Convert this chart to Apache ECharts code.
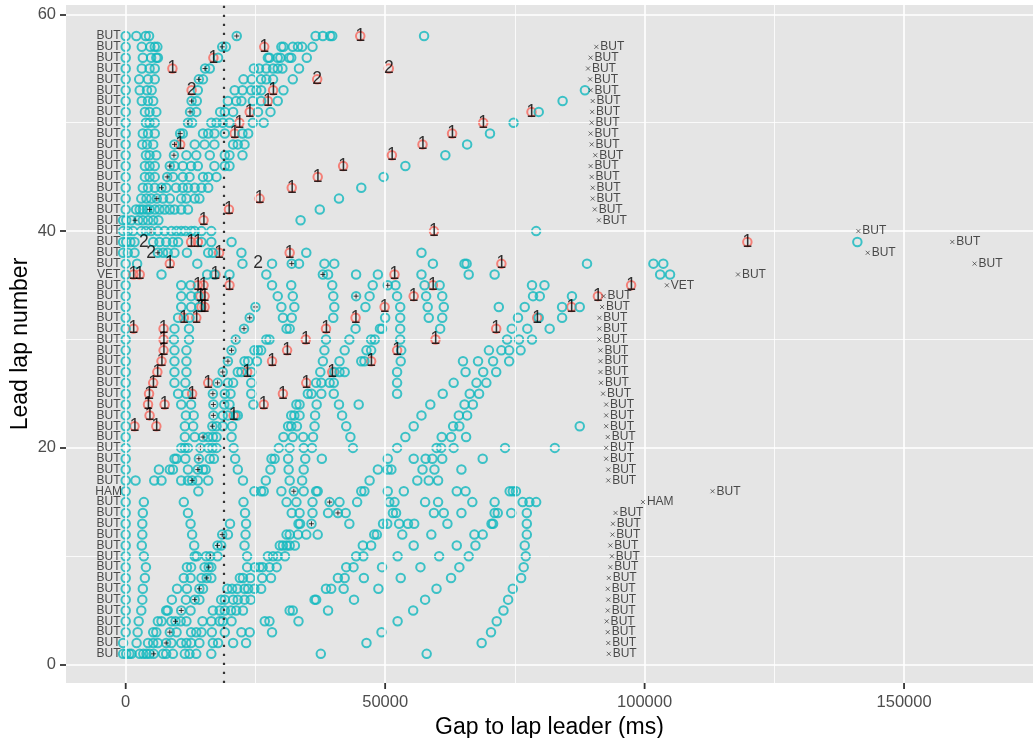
<!DOCTYPE html>
<html><head><meta charset="utf-8">
<style>html,body{margin:0;padding:0;background:#fff}#c{width:1035px;height:738px;filter:blur(0.3px)}</style>
<script src="https://cdn.jsdelivr.net/npm/echarts@6/dist/echarts.min.js"></script>
</head><body><div id="c"></div>
<script>
// Gaps are read in seconds and converted to ms when drawn.
const tealGapsByLap = {
58:[0,2.05,3.85,4.5,21.4,36.6,38,39.4,39.8,57.5],
57:[0,3.1,4.75,5.6,6.1,18.6,19.3,30,30.4,32.2,33.2,34,36],
56:[0,3.3,4.9,5.9,6.2,17.8,27.4,27.7,29.3,29.8,31.5,31.9,34.9],
55:[0,3.1,4.6,5.6,15.3,16.2,24.7,25.7,27.1,28.4,29.3,30.2,33.4],
54:[0,2.6,4.3,5.6,14.1,14.9,22.7,24.3,26.1,27.1,28.4,32.2],
53:[0,2.7,4.1,5,13.9,21,22.5,24.2,25.2,26.1,30.4,88.5],
52:[0,3.1,4.3,5.3,12.7,13.7,19.7,21.3,22.3,24.5,26.1,29.3,84.2],
51:[0,3.7,4.6,5.9,12.4,13.6,18.2,19.1,20.7,25.5,27.9,79.6],
50:[0,3.9,4.6,5.6,12,12.8,16.5,17.5,18.7,20,24.5,26.6,74.75],
49:[0,3.3,4.3,5.6,10.5,11,14.9,15.9,17.1,19.1,22.5,23.6,70.2],
48:[0,3.2,4.1,5.3,9.4,13.3,15.2,17.1,20.7,21.6,22.9,65.8],
47:[0,3.9,4.6,5.9,9.3,11.7,13.6,16.2,19.1,20,22.5,61.6],
46:[0,3.7,4.6,5.6,8.5,9.4,11,12.6,13.9,17.1,19.1,20,53.9],
45:[0,3.7,4.6,5.6,8,9.1,11,12.3,14.9,15.9,17.5,49.7],
44:[0,3.3,4.3,5.6,6.9,7.8,9.7,11,12,13.3,14.6,15.9,45.4],
43:[0,3,4,4.9,6,7.2,8.5,10.7,11.7,13.3,14.2,41.1],
42:[0,2,2.7,3.3,4.1,4.6,5.6,6.5,7.5,8.5,9.4,10.7,12,37.4],
41:[-0.5,0.1,1.1,2.4,3.3,4.3,5.3,6.3,33.7],
40:[-0.5,0.4,1.4,3,3.9,4.9,6.2,7.5,8.8,9.8,10.7,11.5,12.6,13.3,14.6,16.5,79.1],
39:[-0.5,0.1,0.9,1.7,5.3,6.5,7.8,9.1,10.1,14.6,16.5,20.4,141],
38:[-0.5,0.4,1.7,6.2,7.2,8.1,9.4,11.8,15.9,16.8,22.3,34.8,57],
37:[0,2.2,13.8,22.5,28.2,32,33.4,38.3,40.2,59.2,65.3,65.7,88.9,101.7,103.6],
36:[0,6.9,15.7,17.1,20,27.1,38,39,44.4,48.6,57,66.1,71.1,103,104.9],
35:[0,10.7,12.5,28.2,31.9,39.8,47.6,50.5,52,57.6,60.5,78.3,80.7],
34:[0,10.7,12.6,14,29.3,32.2,40,44.4,47,52.3,57.9,61,78.5,79.8,86],
33:[0,10.7,12.6,14.2,25,30,32.5,40.2,46.2,52.9,58.2,61.3,71.9,76.9,84.1,87.5],
32:[0,10.1,12.3,23.9,30.3,32,40,50,52.9,58.4,61,75.6,79.6,84.1],
31:[0,9.4,12.2,22.8,31,31.6,44.3,49,49.4,52.9,60.6,74.4,77.4,81.7],
30:[0,9.3,12.2,21.2,27.1,27.7,38.6,43.1,47.3,48,52.9,73.5,75.8,78.3],
29:[0,9.4,11.7,20.4,24.8,25.5,26.1,38.3,42.2,46.4,47.3,53.1,70,72.4,73.9,76.1],
28:[0,9.4,11.7,19.7,22.9,23.6,25.3,38,41.2,45.4,46,53,65,67.9,70.8,73.9],
27:[0,9.4,11.7,18.7,21.6,22.3,24.2,37.5,40.2,41.2,42.2,52.3,65.5,68.9,71.4],
26:[0,9.4,11.5,17.7,19.7,20.7,24.2,36.7,37.7,39.3,40.1,52.3,63.2,67.6,69.5],
25:[0,10.1,11.7,16.8,19.1,20.2,24.2,35.1,35.8,37.7,40.1,52.3,61.1,66.3,68.1],
24:[0,10.7,12.6,16.9,19,20,24.6,32.9,33.5,36.8,41.1,44.9,58.7,65.3,66.9],
23:[0,11.6,13.1,16.9,18.7,19.7,21.2,21.6,31.9,32.5,33.5,36.5,41.7,57,64.2,65.8],
22:[0,11.4,13,16.7,17.5,18.7,20.5,31.3,31.9,33,36.4,42.5,55.5,63.1,64.3,87.5],
21:[0,11.4,13.3,14.9,15.9,16.8,17.5,20.4,30.4,32.2,34.2,36.1,43.3,53.9,60.9,62.7,65.6],
20:[0,10.7,11.4,12,14.4,15.9,16.7,17.5,20.8,29.5,31.6,34.3,35.9,43.8,52.3,59.9,60.8,63.2,73.1,82.7],
19:[0,9.4,9.8,11.5,14.1,16.2,17,21.1,28.1,28.7,31.3,34.6,37.8,50.5,55.5,57.8,59.1,61,68.8],
18:[0,6.4,8.5,9.1,12,13.9,14.9,15.4,21.6,27.9,31.4,34.3,48.6,50.5,51.2,57.2,59.5,64.7],
17:[0,1.9,5.5,6.9,10.7,12,12.8,13.9,15.9,22.6,27,31.6,34,47,56.2,58.4,60.2],
16:[0,14,24.8,26.1,26.6,30,32.4,34.3,36.7,37,45.4,46,50.5,53.6,63.8,65.5,74,74.6,75.2],
15:[0,3.5,11.2,22.7,31,32.9,36,39.3,41.2,44.6,50.8,51.8,57.7,60.2,66.8,71.1,76.5,77.8,79.1],
14:[0,3.3,12,23,32,33.5,36,39,40.9,42.4,51.5,52.1,59.4,61.3,64.7,71.1,71.7,74.3,77.3],
13:[0,3.2,12.5,20.1,23.2,33.3,33.6,35.8,43.1,49.6,50.4,52.7,54.4,55.6,62,70.5,70.8,77.3],
12:[0,3.2,12.8,18.6,19.7,23.1,31,31.6,33.2,34.8,37,47.9,48.4,53.3,58.9,67.2,68.8,77.3],
11:[0,3.1,13.2,17.7,18.4,22.9,29.7,30.3,31,31.6,32.6,45.7,47.3,55.5,63.8,67.4,76.9],
10:[0,3.5,13.3,13.7,15.5,16.3,17.7,23.4,27.4,28.4,29.3,30.7,44.4,45.8,52.4,60.4,66.1,77.1],
9:[0,3.9,11.8,12.6,15.2,16,16.5,23.4,24.9,25.8,26.4,27.7,29.1,42.5,43.9,49.4,56.8,64.3,76.7],
8:[0,3.7,11.2,12.5,14.6,15.6,16.5,22,22.6,24,26.3,28,40.9,42.2,45.9,53,62.7,76.2],
7:[0,3.3,9.9,11.8,14.2,14.9,19.6,20.5,21.5,22.9,23.6,24.8,26.1,38.6,39.6,42,48.7,59.9,74.6],
6:[0,3.2,8.9,11.6,13.3,14.2,18.4,19.1,20.7,21.6,22.9,24.1,36.4,36.7,44,57.7,73.7],
5:[0,3,7.8,8.1,10.7,12.5,16.8,18.1,19.1,20.3,21.3,22.6,31.6,32.2,39,55.4,72.8],
4:[0,2.5,6.2,6.9,8.8,9.6,10.6,11.7,14.8,16.5,18.1,18.7,20.4,26.8,27.7,33.3,52.4,71.5],
3:[0,2.3,5.3,5.9,8.5,9.8,12.6,13.6,14.6,16.6,19.1,22.3,23.9,28.2,49.3,70.4],
2:[-0.5,2.1,4.3,5.3,6.2,7.8,8.8,10.7,11.7,12.6,14.2,16.8,17.8,20.7,23.2,46.4,68.6],
1:[-0.5,0.1,0.7,1.1,2.7,3.4,4,4.6,5.4,7.2,7.8,9.1,11.4,12.3,13.6,16.5,37.6,58]
};
// [gap seconds, lap]
const redOnes = [[45.2,58],[26.7,57],[16.9,56],[9,55],[28.4,53],[27.4,52],[23.9,51],[21.9,50],[21,49],[10.5,48],
[78.2,51],[68.9,50],[62.9,49],[57.2,48],[51.3,47],[41.9,46],[37,45],[32,44],[25.8,43],[19.9,42],[15,41],[59.4,40],
[12.6,39],[13.9,39],[119.8,39],[18,38],[31.6,38],[8.5,37],[72.4,37],[1.5,36],[2.7,36],[17.3,36],[51.8,36],
[13.9,35],[15,35],[20,35],[59.2,35],[97.4,35],[14.4,34],[15.2,34],[55.5,34],[91,34],[14.6,33],[15.2,33],[49.9,33],[85.9,33],
[11.2,32],[13.6,32],[44.3,32],[79.3,32],[1.5,31],[7.3,31],[38.6,31],[71.4,31],[7.3,30],[34.7,30],[59.7,30],
[7.3,29],[31.1,29],[52.3,29],[6.9,28],[28.2,28],[47.3,28],[6.1,27],[23.4,27],[39.8,27],[5.3,26],[15.9,26],[34.8,26],
[4.5,25],[12.8,25],[30.3,25],[4.3,24],[7.5,24],[26.6,24],[4.6,23],[20.8,23],[1.7,22],[5.9,22]];
const redTwos = [[50.7,55],[36.9,54],[12.7,53]];
const plainTwos = [[3.5,39],[4.9,38],[25.5,37]];
const plusMarks = [[21.4,58],[18.6,57],[15.3,55],[14.1,54],[12.7,52],[12.4,51],[12,50],[10.5,49],[9.4,48],[9.3,47],[8.5,46],[8,45],[6.9,44],[6,43],[4.6,42],[1.8,41],[4.9,40],[6.2,38],[32,37],[38,36],[50.5,35],[44.4,34],[25,33],[23.9,32],[22.8,31],[21.2,30],[20.4,29],[19.7,28],[18.7,27],[17.7,26],[16.8,25],[16.9,24],[16.9,23],[16.7,22],[14.9,21],[14.4,20],[14.1,19],[13.9,18],[12.8,17],[32.4,16],[39.3,15],[40.9,14],[35.8,13],[18.6,12],[17.7,11],[16.3,10],[16,9],[15.6,8],[14.2,7],[13.3,6],[10.7,5],[9.6,4],[8.5,3],[7.8,2],[5.4,1]];
// [gap seconds, lap, driver]
const finishMarks = [[90.7,57,'BUT'],[89.6,56,'BUT'],[89.1,55,'BUT'],[89.5,54,'BUT'],[89.6,53,'BUT'],[90,52,'BUT'],[89.9,51,'BUT'],[89.8,50,'BUT'],[89.6,49,'BUT'],[89.8,48,'BUT'],[90.5,47,'BUT'],[89.6,46,'BUT'],[89.8,45,'BUT'],[90,44,'BUT'],[90,43,'BUT'],[90.4,42,'BUT'],[91.2,41,'BUT'],
[141.2,40,'BUT'],[159.3,39,'BUT'],[143,38,'BUT'],[163.6,37,'BUT'],[118,36,'BUT'],[104.3,35,'VET'],
[92.1,34,'BUT'],[91.8,33,'BUT'],[91.3,32,'BUT'],[91.3,31,'BUT'],[91.3,30,'BUT'],[91.5,29,'BUT'],[91.5,28,'BUT'],[91.5,27,'BUT'],[91.6,26,'BUT'],[92,25,'BUT'],[92.6,24,'BUT'],[92.6,23,'BUT'],[92.6,22,'BUT'],[92.9,21,'BUT'],[92.6,20,'BUT'],[92.6,19,'BUT'],[93,18,'BUT'],[93,17,'BUT'],[113.1,16,'BUT'],[99.7,15,'HAM'],[94.4,14,'BUT'],[93.9,13,'BUT'],[93.8,12,'BUT'],[93.4,11,'BUT'],[93.7,10,'BUT'],[93.4,9,'BUT'],[93.1,8,'BUT'],[92.9,7,'BUT'],[93,6,'BUT'],[92.9,5,'BUT'],[92.7,4,'BUT'],[92.9,3,'BUT'],[93,2,'BUT'],[93.1,1,'BUT']];
const leaderLabelExceptions = {36:'VET',16:'HAM'};
const leaderLabelDefault = 'BUT';
const leaderLabelGapSec = -3.3;
const laps = Object.keys(tealGapsByLap).map(Number);
const medianGapSec = 18.9;
const xMajor = [0,50000,100000,150000];
const xMinor = [25000,75000,125000];
const yMajor = [0,20,40,60];
const yMinor = [10,30,50];
const yMin = -1.69;
const yMax = 60.86;

const ms = s => s*1000;
const teal = laps.flatMap(l => tealGapsByLap[l].map(g => [ms(g),l]));
const red = redOnes.concat(redTwos).map(d => [ms(d[0]),d[1]]);
const textSeries = (rows,txt) => rows.map(d => ({value:[ms(d[0]),d[1]],name:txt}));
const leaders = laps.map(l => ({value:[ms(leaderLabelGapSec),l],name:leaderLabelExceptions[l]||leaderLabelDefault}));
const finish = finishMarks.map(d => ({value:[ms(d[0]),d[1]],name:d[2]}));
const FONT = '"Liberation Sans",Arial,sans-serif';
const nameLabel = (size,extra) => Object.assign({show:true,position:'inside',formatter:p=>p.name,color:'#1a1a1a',fontFamily:FONT,fontSize:size},extra||{});
const lineData = (axis,vals) => vals.map(v => ({[axis]:v}));
const gridMark = (xs,ys,w) => ({silent:true,symbol:'none',label:{show:false},animation:false,lineStyle:{color:'#fff',width:w,type:'solid'},data:lineData('xAxis',xs).concat(lineData('yAxis',ys))});

const chart = echarts.init(document.getElementById('c'),null,{renderer:'canvas'});
chart.setOption({
 animation:false,
 backgroundColor:'#fff',
 grid:{left:66,right:2,top:5,height:678,show:true,backgroundColor:'#E5E5E5',borderWidth:0,outerBoundsMode:'none',containLabel:false},
 xAxis:{type:'value',min:-11505,max:174850,
  name:'Gap to lap leader (ms)',nameLocation:'middle',nameGap:31,nameTextStyle:{color:'#000',fontFamily:FONT,fontSize:23},
  splitLine:{show:false},axisLine:{show:false,onZero:false},
  axisTick:{show:false},
  axisLabel:{color:'#4D4D4D',fontFamily:FONT,fontSize:16.5,margin:11,customValues:xMajor,formatter:v=>String(v)}},
 yAxis:{type:'value',min:yMin,max:yMax,
  name:'Lead lap number',nameLocation:'middle',nameGap:34,nameMoveOverlap:false,nameTextStyle:{color:'#000',fontFamily:FONT,fontSize:23},
  splitLine:{show:false},axisLine:{show:false,onZero:false},
  axisTick:{show:true,length:6,lineStyle:{color:'#333',width:1.8},customValues:yMajor},
  axisLabel:{color:'#4D4D4D',fontFamily:FONT,fontSize:16.5,margin:10,customValues:yMajor,formatter:v=>String(v)}},
 series:[
  {type:'scatter',z:1,symbolSize:0,data:[],markLine:gridMark(xMinor,yMinor,0.8)},
  {type:'scatter',z:1,symbolSize:0,data:[],markLine:gridMark(xMajor,yMajor,1.6)},
  {type:'custom',z:6,silent:true,clip:false,coordinateSystem:'cartesian2d',encode:{x:0,y:1},data:xMajor.map(v=>[v,yMin]),
   renderItem:(params,api)=>{const p=api.coord([api.value(0),api.value(1)]);return {type:'line',shape:{x1:p[0],y1:p[1],x2:p[0],y2:p[1]+6},style:{stroke:'#333',lineWidth:1.8}};}},
  {type:'scatter',z:2,symbolSize:8.5,data:red,itemStyle:{color:'rgba(0,0,0,0)',borderColor:'#F8665C',borderWidth:2}},
  {type:'scatter',z:3,symbolSize:8.5,data:teal,itemStyle:{color:'rgba(0,0,0,0)',borderColor:'#10B8BE',borderWidth:2}},
  {type:'scatter',z:4,symbol:'path://M0 5L10 5M5 0L5 10',symbolSize:5,data:plusMarks.map(d=>[ms(d[0]),d[1]]),itemStyle:{color:'rgba(0,0,0,0)',borderColor:'#111',borderWidth:1}},
  {type:'scatter',z:4,symbolSize:0,silent:true,data:[],markLine:{silent:true,symbol:'none',label:{show:false},animation:false,lineStyle:{color:'#333',width:2.2,type:[2.2,6.8]},data:[{xAxis:ms(medianGapSec)}]}},
  {type:'scatter',z:5,symbolSize:0,data:textSeries(redOnes,'1').concat(textSeries(redTwos,'2'),textSeries(plainTwos,'2')),label:nameLabel(17.5,{color:'#000'})},
  {type:'scatter',z:5,symbolSize:0,data:leaders,label:nameLabel(12,{color:'#222'})},
  {type:'scatter',z:5,symbol:'path://M0 0L10 10M10 0L0 10',symbolSize:4,data:finish,itemStyle:{color:'rgba(0,0,0,0)',borderColor:'#222',borderWidth:0.8},label:nameLabel(12,{position:'right',distance:1.5,color:'#222'})}
 ]
});
</script></body></html>
